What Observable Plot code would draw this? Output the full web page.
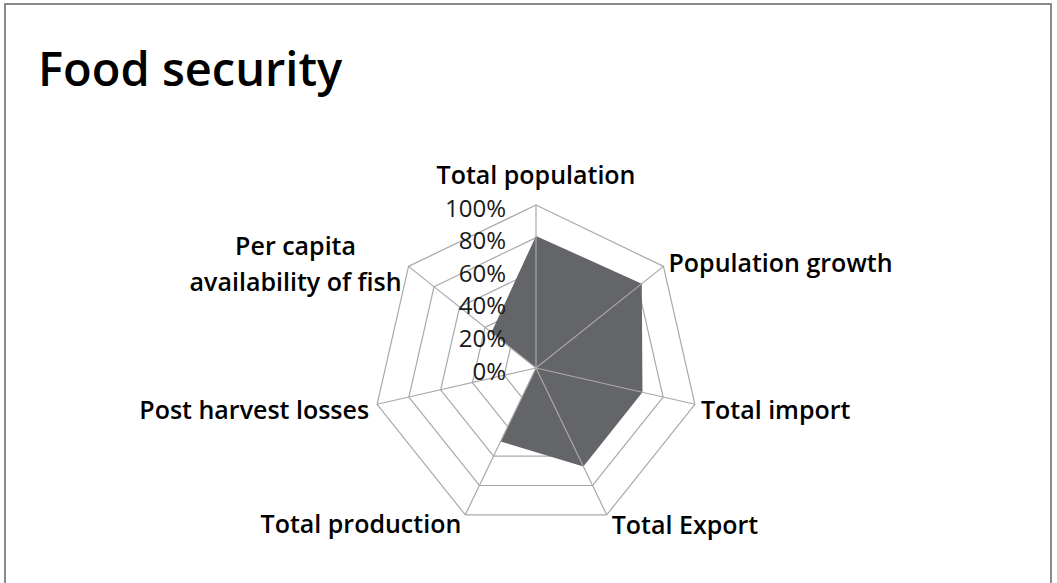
<!DOCTYPE html>
<html>
<head>
<meta charset="utf-8">
<script src="https://cdn.jsdelivr.net/npm/d3@7"></script>
<script src="https://cdn.jsdelivr.net/npm/@observablehq/plot@0.6"></script>
<style>
  html, body { margin: 0; padding: 0; background: #fff; overflow: hidden; }
  #frame { position: absolute; left: 4px; top: 3px; width: 1048px; height: 700px; border: 2px solid #8a8a8a; box-sizing: border-box; pointer-events: none; }
  #title { height: 130px; position: relative; }
  #title h1 { position: absolute; left: 38px; top: 45px; margin: 0; font-family: "Open Sans", sans-serif; font-weight: 600; font-size: 47px; line-height: 1; color: #000; }
  #chart svg { display: block; }
</style>
</head>
<body>
<div id="frame"></div>
<div id="title"><h1>Food security</h1></div>
<div id="chart"></div>
<script>
const categories = ["Total population", "Population growth", "Total import", "Total Export", "Total production", "Post harvest losses", "Per capita\navailability of fish"];
const values = [81, 83, 67, 67, 50, 0, 35];
const tickValues = [0, 20, 40, 60, 80, 100];
const tickLabels = ["0%", "20%", "40%", "60%", "80%", "100%"];

// label placement relative to each axis end (styling, not data)
const labelPlacement = [
  {dx: 0, dy: -33, anchor: "middle"},
  {dx: 5, dy: -6, anchor: "start"},
  {dx: 6, dy: 3, anchor: "start"},
  {dx: 5, dy: 8, anchor: "start"},
  {dx: -4, dy: 7, anchor: "end"},
  {dx: -8, dy: 3, anchor: "end"},
  {dx: -113, dy: -5, anchor: "middle"}
];

const n = categories.length;
const ang = i => 2 * Math.PI * i / n;
const px = (i, r) => r * Math.sin(ang(i));
const py = (i, r) => r * Math.cos(ang(i));

const rings = [];
tickValues.filter(v => v > 0).forEach(v => {
  for (let i = 0; i <= n; i++) rings.push({level: v, x: px(i % n, v / 100), y: py(i % n, v / 100)});
});
const spokes = categories.map((c, i) => ({x2: px(i, 1), y2: py(i, 1)}));
const poly = [];
for (let i = 0; i <= n; i++) poly.push({x: px(i % n, values[i % n] / 100), y: py(i % n, values[i % n] / 100)});
const ticks = tickValues.map((v, i) => ({x: 0, y: v / 100, label: tickLabels[i]}));
const labels = categories.map((c, i) => ({x: px(i, 1), y: py(i, 1), label: c, ...labelPlacement[i]}));

const gridColor = "#a9a9a9";
const cx = 535.5, cy = 237.5, R = 163;

const marks = [
  Plot.line(rings, {x: "x", y: "y", z: "level", stroke: gridColor, strokeWidth: 1.2}),
  Plot.line(poly, {x: "x", y: "y", fill: "#646568", stroke: "none"}),
  Plot.link(spokes, {x1: () => 0, y1: () => 0, x2: "x2", y2: "y2", stroke: gridColor, strokeWidth: 1.2}),
  Plot.text(ticks, {x: "x", y: "y", text: "label", dx: -30, dy: 4, textAnchor: "end", fontSize: 24, fontWeight: 400, fill: "#1a1a1a"})
];
labelPlacement.forEach((p, i) => {
  marks.push(Plot.text([labels[i]], {x: "x", y: "y", text: "label", dx: p.dx, dy: p.dy, textAnchor: p.anchor, fontSize: 25, fontWeight: 600, lineHeight: 1.44, fill: "#000"}));
});

const chart = Plot.plot({
  width: 1057,
  height: 453,
  margin: 0,
  style: {fontFamily: "Open Sans, sans-serif", background: "transparent", overflow: "visible"},
  x: {domain: [-1, 1], range: [cx - R, cx + R], axis: null},
  y: {domain: [-1, 1], range: [cy + R, cy - R], axis: null},
  marks
});
document.getElementById("chart").appendChild(chart);
</script>
</body>
</html>
